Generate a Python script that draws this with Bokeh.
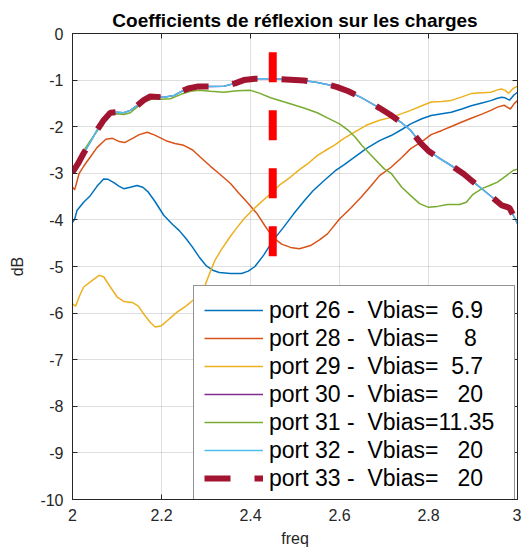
from bokeh.plotting import figure
from bokeh.models import LinearAxis, FixedTicker, Range1d, Legend, LegendItem
from bokeh.embed import file_html
from bokeh.resources import INLINE

title_text = "Coefficients de réflexion sur les charges"
x_label = "freq"
y_label = "dB"

xticks = [2.0, 2.2, 2.4, 2.6, 2.8, 3.0]
xtick_labels = ["2", "2.2", "2.4", "2.6", "2.8", "3"]
yticks = [0, -1, -2, -3, -4, -5, -6, -7, -8, -9, -10]
ytick_labels = ["0", "-1", "-2", "-3", "-4", "-5", "-6", "-7", "-8", "-9", "-10"]

labels = [
    "port 26 -  Vbias=  6.9",
    "port 28 -  Vbias=    8",
    "port 29 -  Vbias=  5.7",
    "port 30 -  Vbias=   20",
    "port 31 -  Vbias=11.35",
    "port 32 -  Vbias=   20",
    "port 33 -  Vbias=   20",
]
colors = ["#0072BD", "#D95319", "#EDB120", "#7E2F8E", "#77AC30", "#4DBEEE", "#A2142F"]

# port 26
f26 = [2.000, 2.005, 2.010, 2.025, 2.040, 2.055, 2.070, 2.080, 2.093, 2.105, 2.115, 2.130, 2.145, 2.158,
       2.170, 2.185, 2.205, 2.225, 2.240, 2.255, 2.270, 2.285, 2.300, 2.315, 2.330, 2.355, 2.380, 2.395,
       2.410, 2.430, 2.450, 2.475, 2.497, 2.520, 2.540, 2.565, 2.590, 2.610, 2.633, 2.660, 2.690, 2.716,
       2.740, 2.760, 2.785, 2.806, 2.830, 2.851, 2.875, 2.896, 2.920, 2.940, 2.955, 2.964, 2.972, 2.982,
       2.992, 3.000]
db26 = [-4.05, -3.98, -3.80, -3.62, -3.48, -3.28, -3.12, -3.13, -3.20, -3.28, -3.33, -3.30, -3.26, -3.30,
        -3.40, -3.60, -3.90, -4.10, -4.23, -4.40, -4.59, -4.80, -4.98, -5.08, -5.13, -5.15, -5.15, -5.10,
        -5.00, -4.75, -4.45, -4.15, -3.87, -3.60, -3.38, -3.16, -2.95, -2.82, -2.66, -2.47, -2.30, -2.19,
        -2.06, -1.94, -1.83, -1.76, -1.72, -1.69, -1.62, -1.55, -1.49, -1.44, -1.39, -1.37, -1.38, -1.43,
        -1.32, -1.26]

# port 28
f28 = [2.000, 2.005, 2.015, 2.025, 2.040, 2.055, 2.075, 2.090, 2.105, 2.117, 2.135, 2.150, 2.168, 2.185,
       2.210, 2.230, 2.250, 2.270, 2.287, 2.310, 2.330, 2.355, 2.375, 2.395, 2.415, 2.432, 2.450, 2.470,
       2.490, 2.510, 2.535, 2.555, 2.573, 2.600, 2.625, 2.648, 2.670, 2.690, 2.716, 2.740, 2.760, 2.785,
       2.806, 2.830, 2.850, 2.875, 2.896, 2.920, 2.940, 2.955, 2.970, 2.984, 2.993, 3.000]
db28 = [-3.30, -3.35, -3.00, -2.85, -2.65, -2.45, -2.27, -2.25, -2.32, -2.34, -2.25, -2.17, -2.12, -2.18,
        -2.30, -2.36, -2.40, -2.50, -2.65, -2.85, -3.01, -3.22, -3.44, -3.65, -3.87, -4.12, -4.37, -4.52,
        -4.59, -4.62, -4.55, -4.43, -4.30, -3.98, -3.75, -3.52, -3.28, -3.05, -2.87, -2.66, -2.47, -2.32,
        -2.17, -2.08, -2.00, -1.90, -1.82, -1.73, -1.65, -1.58, -1.54, -1.62, -1.50, -1.44]

# port 29
f29 = [2.000, 2.007, 2.015, 2.025, 2.040, 2.060, 2.070, 2.085, 2.100, 2.115, 2.134, 2.148, 2.160, 2.175,
       2.186, 2.200, 2.218, 2.235, 2.255, 2.270, 2.285, 2.298, 2.310, 2.320, 2.333, 2.355, 2.370, 2.385,
       2.400, 2.420, 2.445, 2.468, 2.490, 2.510, 2.528, 2.550, 2.570, 2.588, 2.610, 2.633, 2.660, 2.690,
       2.716, 2.740, 2.760, 2.785, 2.806, 2.830, 2.850, 2.875, 2.896, 2.920, 2.940, 2.955, 2.964, 2.972,
       2.980, 2.990, 3.000]
db29 = [-5.80, -5.85, -5.65, -5.44, -5.33, -5.19, -5.22, -5.44, -5.65, -5.75, -5.77, -5.85, -6.02, -6.20,
        -6.30, -6.27, -6.12, -5.98, -5.85, -5.73, -5.60, -5.40, -5.10, -4.87, -4.66, -4.35, -4.16, -3.98,
        -3.83, -3.65, -3.44, -3.23, -3.08, -2.92, -2.80, -2.62, -2.50, -2.40, -2.25, -2.12, -1.97, -1.86,
        -1.80, -1.72, -1.65, -1.55, -1.47, -1.46, -1.44, -1.36, -1.29, -1.27, -1.26, -1.21, -1.19, -1.22,
        -1.28, -1.18, -1.13]

# port 31
f31 = [2.000, 2.012, 2.025, 2.040, 2.055, 2.070, 2.085, 2.100, 2.115, 2.130, 2.145, 2.160, 2.180, 2.200,
       2.220, 2.245, 2.265, 2.285, 2.310, 2.340, 2.370, 2.400, 2.420, 2.445, 2.480, 2.520, 2.550, 2.575,
       2.600, 2.620, 2.635, 2.650, 2.670, 2.700, 2.716, 2.740, 2.760, 2.780, 2.800, 2.820, 2.843, 2.870,
       2.885, 2.900, 2.920, 2.940, 2.955, 2.975, 2.990, 3.000]
db31 = [-3.00, -2.78, -2.52, -2.30, -2.10, -1.90, -1.73, -1.72, -1.74, -1.70, -1.58, -1.47, -1.40, -1.41,
        -1.40, -1.30, -1.24, -1.22, -1.24, -1.26, -1.23, -1.22, -1.28, -1.38, -1.48, -1.60, -1.70, -1.82,
        -1.94, -2.08, -2.22, -2.40, -2.60, -2.90, -3.00, -3.30, -3.48, -3.65, -3.73, -3.71, -3.67, -3.67,
        -3.62, -3.45, -3.33, -3.25, -3.19, -3.05, -2.94, -2.91]

# port 30 / 32 / 33 (same curve)
f32 = [2.000, 2.012, 2.025, 2.040, 2.055, 2.070, 2.085, 2.100, 2.115, 2.130, 2.145, 2.160, 2.175, 2.190,
       2.205, 2.228, 2.245, 2.260, 2.280, 2.310, 2.340, 2.365, 2.385, 2.410, 2.450, 2.490, 2.520, 2.550,
       2.575, 2.595, 2.620, 2.648, 2.670, 2.690, 2.715, 2.740, 2.760, 2.783, 2.800, 2.820, 2.857, 2.880,
       2.900, 2.935, 2.965, 2.982, 3.000]
db32 = [-2.98, -2.80, -2.57, -2.33, -2.08, -1.86, -1.70, -1.69, -1.70, -1.65, -1.55, -1.43, -1.35, -1.36,
        -1.37, -1.33, -1.24, -1.18, -1.14, -1.14, -1.13, -1.07, -1.00, -0.97, -0.97, -0.99, -1.01, -1.05,
        -1.10, -1.15, -1.24, -1.37, -1.49, -1.60, -1.75, -1.92, -2.08, -2.36, -2.52, -2.65, -2.87, -3.02,
        -3.18, -3.45, -3.69, -3.74, -4.08]

marker_freq = [2.45, 2.45]
marker_db = [-0.4, -4.9]

FONT = "Liberation Sans"
AX = "#262626"

p = figure(frame_width=445, frame_height=466, x_range=Range1d(2, 3), y_range=Range1d(-10, 0),
           output_backend="svg", toolbar_location=None,
           min_border_left=72, min_border_right=4, min_border_top=33, min_border_bottom=0,
           background_fill_color="white", border_fill_color="white")
p.outline_line_color = AX
p.outline_line_width = 1

p.title.text = title_text
p.title.align = "center"
p.title.text_font = FONT
p.title.text_font_size = "19px"
p.title.text_font_style = "bold"
p.title.text_color = "black"
p.title.standoff = 5

for ax, ticks, labs in ((p.xaxis[0], xticks, xtick_labels), (p.yaxis[0], yticks, ytick_labels)):
    ax.ticker = FixedTicker(ticks=ticks)
    ax.major_label_overrides = dict(zip(ticks, labs))
    ax.major_tick_in = 5
    ax.major_tick_out = 0
    ax.minor_tick_line_color = None
    ax.axis_line_color = AX
    ax.major_tick_line_color = AX
    ax.major_label_text_font = FONT
    ax.major_label_text_font_size = "16px"
    ax.major_label_text_color = AX
    ax.axis_label_text_font = FONT
    ax.axis_label_text_font_size = "16px"
    ax.axis_label_text_font_style = "normal"
    ax.axis_label_text_color = AX

p.xaxis[0].axis_label = x_label
p.xaxis[0].major_label_standoff = 9
p.xaxis[0].axis_label_standoff = 6
p.yaxis[0].axis_label = y_label
p.yaxis[0].major_label_standoff = 9
p.yaxis[0].axis_label_standoff = 11

for loc, ticks in (("above", xticks), ("right", yticks)):
    ax = LinearAxis(ticker=FixedTicker(ticks=ticks), major_tick_in=5, major_tick_out=0,
                    minor_tick_line_color=None, axis_line_color=AX, major_tick_line_color=AX,
                    major_label_text_font_size="1px", major_label_text_color=None,
                    major_label_text_alpha=0, major_label_standoff=0)
    p.add_layout(ax, loc)

p.xgrid.ticker = FixedTicker(ticks=xticks)
p.ygrid.ticker = FixedTicker(ticks=yticks)
p.grid.grid_line_color = AX
p.grid.grid_line_alpha = 0.15

series = [(f26, db26), (f28, db28), (f29, db29), (f32, db32), (f31, db31), (f32, db32), (f32, db32)]
items = []
for i, ((fx, dy), lab, col) in enumerate(zip(series, labels, colors)):
    if i == 6:
        r = p.line(fx, dy, line_color=col, line_width=6, line_dash="26 24")
    else:
        r = p.line(fx, dy, line_color=col, line_width=1.5)
    items.append(LegendItem(label=lab.replace(" ", "\u00a0"), renderers=[r]))

p.line(marker_freq, marker_db, line_color="#FF0000", line_width=8, line_dash="30 28")

legend = Legend(items=items, location=(121, -4), padding=10, margin=0, spacing=0,
                label_standoff=6, glyph_width=59, glyph_height=28, label_height=28, label_width=235,
                label_text_font=FONT, label_text_font_size="23px", label_text_color="black",
                border_line_color=AX, border_line_width=1, background_fill_color="white",
                background_fill_alpha=1)
p.add_layout(legend, "center")

open("out.html", "w").write(file_html(p, INLINE))
